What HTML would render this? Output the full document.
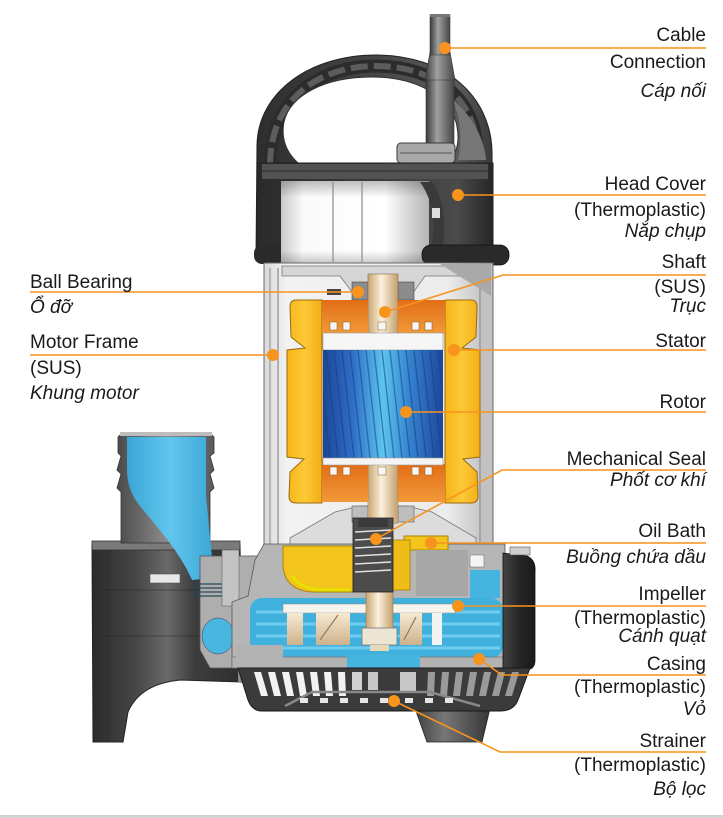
<!DOCTYPE html>
<html><head><meta charset="utf-8">
<style>
html,body{margin:0;padding:0;background:#fff;}
body{width:723px;height:818px;position:relative;overflow:hidden;}
svg{position:absolute;left:0;top:0;}
text{font-family:"Liberation Sans","Noto Sans CJK SC",sans-serif;font-size:19px;fill:#1a1a1a;}
.r{text-anchor:end;}
.i{font-style:italic;}
</style></head><body>
<svg width="723" height="818" viewBox="0 0 723 818" xmlns="http://www.w3.org/2000/svg">
<defs>
<linearGradient id="gCable" x1="0" x2="1" y1="0" y2="0"><stop offset="0" stop-color="#3a3a3a"/><stop offset="0.4" stop-color="#a0a0a0"/><stop offset="1" stop-color="#454545"/></linearGradient>
<linearGradient id="gHandle" x1="0" x2="1" y1="0" y2="0"><stop offset="0" stop-color="#2e2e2e"/><stop offset="0.5" stop-color="#454545"/><stop offset="0.85" stop-color="#5a5a5a"/><stop offset="1" stop-color="#3a3a3a"/></linearGradient>
<linearGradient id="gHead" x1="0" x2="1" y1="0" y2="0"><stop offset="0" stop-color="#2a2a2a"/><stop offset="0.6" stop-color="#3e3e3e"/><stop offset="0.85" stop-color="#4a4a4a"/><stop offset="1" stop-color="#262626"/></linearGradient>
<linearGradient id="gCap" x1="0" x2="1" y1="0" y2="0"><stop offset="0" stop-color="#c9c9c9"/><stop offset="0.15" stop-color="#fafafa"/><stop offset="0.7" stop-color="#ffffff"/><stop offset="1" stop-color="#b5b5b5"/></linearGradient>
<linearGradient id="gCapV" x1="0" x2="0" y1="0" y2="1"><stop offset="0" stop-color="#000" stop-opacity="0.25"/><stop offset="0.2" stop-color="#000" stop-opacity="0"/><stop offset="0.85" stop-color="#000" stop-opacity="0"/><stop offset="1" stop-color="#000" stop-opacity="0.2"/></linearGradient>
<linearGradient id="gFrame" x1="0" x2="1" y1="0" y2="0"><stop offset="0" stop-color="#d9d9d9"/><stop offset="0.1" stop-color="#f2f2f2"/><stop offset="0.8" stop-color="#ececec"/><stop offset="1" stop-color="#b9b9b9"/></linearGradient>
<linearGradient id="gYel" x1="0" x2="1" y1="0" y2="0"><stop offset="0" stop-color="#f6b51a"/><stop offset="0.5" stop-color="#fcc935"/><stop offset="1" stop-color="#f3ad17"/></linearGradient>
<linearGradient id="gOr" x1="0" x2="0" y1="0" y2="1"><stop offset="0" stop-color="#e36d17"/><stop offset="1" stop-color="#f19a3a"/></linearGradient>
<linearGradient id="gRotor" x1="0" x2="1" y1="0" y2="0"><stop offset="0" stop-color="#1b4699"/><stop offset="0.25" stop-color="#2f6fc4"/><stop offset="0.5" stop-color="#5cc4ee"/><stop offset="0.72" stop-color="#3683cf"/><stop offset="1" stop-color="#1c479c"/></linearGradient>
<linearGradient id="gShaft" x1="0" x2="1" y1="0" y2="0"><stop offset="0" stop-color="#c9a572"/><stop offset="0.45" stop-color="#fbf1dc"/><stop offset="1" stop-color="#c39f6c"/></linearGradient>
<linearGradient id="gDis" x1="0" x2="1" y1="0" y2="0"><stop offset="0" stop-color="#2b2b2b"/><stop offset="0.3" stop-color="#474747"/><stop offset="0.5" stop-color="#6a6a6a"/><stop offset="0.68" stop-color="#3d3d3d"/><stop offset="1" stop-color="#2e2e2e"/></linearGradient>
<linearGradient id="gPipe" x1="0" x2="1" y1="0" y2="0"><stop offset="0" stop-color="#4a4a4a"/><stop offset="0.5" stop-color="#8a8a8a"/><stop offset="1" stop-color="#5a5a5a"/></linearGradient>
<linearGradient id="gBlue" x1="0" x2="1" y1="0" y2="0"><stop offset="0" stop-color="#3aa6d6"/><stop offset="0.5" stop-color="#62c6ee"/><stop offset="1" stop-color="#3aa6d6"/></linearGradient>
<linearGradient id="gRdark" x1="0" x2="1" y1="0" y2="0"><stop offset="0" stop-color="#444"/><stop offset="0.5" stop-color="#262626"/><stop offset="1" stop-color="#1a1a1a"/></linearGradient>
<linearGradient id="gLeg" x1="0" x2="1" y1="0" y2="0"><stop offset="0" stop-color="#3a3a3a"/><stop offset="0.4" stop-color="#777"/><stop offset="1" stop-color="#333"/></linearGradient>
<linearGradient id="gBeige" x1="0" x2="0" y1="0" y2="1"><stop offset="0" stop-color="#f6ead2"/><stop offset="1" stop-color="#cdb28c"/></linearGradient>
<clipPath id="cRotor"><rect x="323" y="350" width="120" height="108"/></clipPath>
</defs>

<rect x="0" y="815" width="723" height="3" fill="#d2d2d2"/>

<!-- DISCHARGE -->
<path d="M92,545 L240,545 L242,682 L180,680 Q140,684 128,712 L123,742 L93,742 Z" fill="url(#gDis)" stroke="#222" stroke-width="1"/>
<rect x="92" y="541" width="148" height="9" fill="#7a7a7a" stroke="#333" stroke-width="0.8"/>
<line x1="100" y1="590" x2="238" y2="590" stroke="#222" stroke-width="0.8" opacity="0.6"/>
<line x1="100" y1="636" x2="238" y2="636" stroke="#222" stroke-width="0.8" opacity="0.6"/>
<line x1="108" y1="550" x2="108" y2="742" stroke="#222" stroke-width="0.8" opacity="0.5"/>
<rect x="150" y="574" width="30" height="9" fill="#e8e8e8" stroke="#555" stroke-width="0.6"/>
<path d="M118,437 L121,434 L211,434 L214,437 L214,453 L210,456 L214,470 L210,474 L214,488 L210,492 L210,543 L121,543 L121,492 L117,488 L121,474 L117,470 L121,456 L118,453 Z" fill="url(#gPipe)" stroke="#333" stroke-width="0.8"/>
<path d="M127,437 L206,437 L206,495 L214,578 L192,580 C178,548 152,522 137,502 C129,490 127,480 127,468 Z" fill="url(#gBlue)"/>
<rect x="120" y="432" width="92" height="4" fill="#bdbdbd"/>
<path d="M200,556 L262,556 L262,668 L210,668 L200,650 Z" fill="#aeaeae" stroke="#555" stroke-width="0.8"/>
<rect x="222" y="550" width="17" height="56" fill="#c3c3c3" stroke="#666" stroke-width="0.6"/>
<g stroke="#2a4a5a" stroke-width="1.2"><line x1="192" y1="584" x2="222" y2="584"/><line x1="192" y1="588" x2="222" y2="588"/><line x1="192" y1="592" x2="222" y2="592"/><line x1="192" y1="596" x2="222" y2="596"/></g>
<ellipse cx="218" cy="636" rx="16" ry="18" fill="#48b6df" stroke="#336" stroke-width="0.5"/>
<path d="M238,640 L246,640 L246,682 L238,682 Z" fill="#8a8a8a"/>

<!-- right leg -->
<path d="M412,700 L492,700 L482,742 L427,742 Z" fill="url(#gLeg)" stroke="#222" stroke-width="0.8"/>

<!-- handle -->
<path d="M256,258 L257,145 C258,92 310,55 376,55 C444,55 491,95 492,152 L493,258 Z" fill="url(#gHandle)" stroke="#222" stroke-width="1"/>
<path d="M270,165 C270,100 318,66 376,66 C436,66 476,100 477,150" fill="none" stroke="#2c2c2c" stroke-width="13"/>
<path d="M270,165 C270,100 318,66 376,66 C436,66 476,100 477,150" fill="none" stroke="#5c5c5c" stroke-width="6" stroke-dasharray="17 6"/>
<path d="M452,98 C470,115 484,135 486,160 L458,160 C462,140 461,118 452,98 Z" fill="#767676"/>
<path d="M298,163 C286,152 281,138 284,122 C290,95 325,77 372,77 C415,77 448,95 456,122 C460,138 458,152 450,160 L446,163 Z" fill="#fff" stroke="#333" stroke-width="1"/>
<rect x="426" y="78" width="28" height="72" fill="url(#gCable)" stroke="#333" stroke-width="0.6"/>
<path d="M430,52 L450,52 L455,80 L425,80 Z" fill="url(#gCable)" stroke="#333" stroke-width="0.6"/>
<rect x="430" y="15" width="20" height="40" fill="url(#gCable)" stroke="#444" stroke-width="0.6"/>
<rect x="430" y="14" width="20" height="3" fill="#777"/>
<rect x="397" y="143" width="58" height="20" rx="4" fill="#a8a8a8" stroke="#3a3a3a" stroke-width="1"/>
<line x1="400" y1="153" x2="452" y2="153" stroke="#555" stroke-width="1"/>

<!-- HEAD COVER -->
<rect x="257" y="163" width="236" height="96" fill="url(#gHead)" stroke="#222" stroke-width="1"/>
<rect x="262" y="164" width="226" height="15" fill="#525252"/>
<line x1="262" y1="171" x2="488" y2="171" stroke="#2a2a2a" stroke-width="1"/>
<rect x="254" y="245" width="30" height="19" rx="8" fill="#2a2a2a"/>
<rect x="281" y="181" width="148" height="82" fill="url(#gCap)"/>
<rect x="281" y="181" width="148" height="82" fill="url(#gCapV)"/>
<line x1="333" y1="182" x2="333" y2="262" stroke="#8a8a8a" stroke-width="1.2"/>
<line x1="362" y1="182" x2="362" y2="262" stroke="#8a8a8a" stroke-width="1.2"/>
<path d="M420,182 C433,200 438,225 428,262 L440,262 C448,225 444,200 432,182 Z" fill="#3a3a3a"/>
<rect x="432" y="208" width="8" height="10" fill="#ddd"/>
<rect x="422" y="245" width="87" height="20" rx="9" fill="#2a2a2a" stroke="#111" stroke-width="0.8"/>

<!-- MOTOR FRAME -->
<rect x="264" y="263" width="229" height="286" fill="url(#gFrame)" stroke="#6a6a6a" stroke-width="1"/>
<line x1="270" y1="268" x2="270" y2="548" stroke="#8a8a8a" stroke-width="1"/>
<line x1="278" y1="268" x2="278" y2="548" stroke="#8a8a8a" stroke-width="1.2"/>
<rect x="479" y="264" width="13" height="284" fill="#c2c2c2"/>
<line x1="480" y1="264" x2="480" y2="548" stroke="#888" stroke-width="1"/>
<path d="M282,266 L476,266 L476,276 L425,276 L408,300 L358,300 L340,276 L282,276 Z" fill="#d6d6d6" stroke="#777" stroke-width="0.8"/>
<path d="M440,264 L491,264 L491,296 Z" fill="#a9a9a9"/>
<rect x="327" y="289" width="14" height="6" fill="#444"/>
<rect x="352" y="282" width="16" height="18" fill="#8c8c8c" stroke="#444" stroke-width="0.6"/>
<rect x="398" y="282" width="16" height="18" fill="#8c8c8c" stroke="#444" stroke-width="0.6"/>
<rect x="368" y="274" width="30" height="252" fill="url(#gShaft)" stroke="#8a6d45" stroke-width="0.6"/>
<path d="M296,300 L322,300 L322,503 L296,503 Q289,503 289,496 L290,472 L304,459 L287,457 L287,350 L305,348 L291,337 L290,307 Q290,300 296,300 Z" fill="url(#gYel)" stroke="#9a6a10" stroke-width="1"/>
<path d="M471,300 L445,300 L445,503 L471,503 Q478,503 478,496 L477,472 L463,459 L480,457 L480,350 L462,348 L476,337 L477,307 Q477,300 471,300 Z" fill="url(#gYel)" stroke="#9a6a10" stroke-width="1"/>
<rect x="322" y="300" width="46" height="34" fill="url(#gOr)"/>
<rect x="398" y="300" width="47" height="34" fill="url(#gOr)"/>
<rect x="322" y="464" width="46" height="38" fill="url(#gOr)"/>
<rect x="398" y="464" width="47" height="38" fill="url(#gOr)"/>
<g fill="#f6f6f6" stroke="#8a5a20" stroke-width="0.5">
<rect x="330" y="322" width="7" height="8"/><rect x="343" y="322" width="7" height="8"/><rect x="378" y="322" width="8" height="8"/><rect x="412" y="322" width="7" height="8"/><rect x="425" y="322" width="7" height="8"/>
<rect x="330" y="467" width="7" height="8"/><rect x="343" y="467" width="7" height="8"/><rect x="378" y="467" width="8" height="8"/><rect x="412" y="467" width="7" height="8"/><rect x="425" y="467" width="7" height="8"/>
</g>
<rect x="323" y="333" width="120" height="17" fill="#f6f6f6" stroke="#999" stroke-width="0.6"/>
<rect x="323" y="350" width="120" height="108" fill="url(#gRotor)"/>
<g clip-path="url(#cRotor)" stroke="#173d86" stroke-width="1.3" opacity="0.55">
<line x1="310" y1="350" x2="322" y2="458"/><line x1="318" y1="350" x2="330" y2="458"/><line x1="326" y1="350" x2="338" y2="458"/><line x1="334" y1="350" x2="346" y2="458"/><line x1="342" y1="350" x2="354" y2="458"/><line x1="350" y1="350" x2="362" y2="458"/><line x1="358" y1="350" x2="370" y2="458"/><line x1="366" y1="350" x2="378" y2="458"/><line x1="374" y1="350" x2="386" y2="458"/><line x1="382" y1="350" x2="394" y2="458"/><line x1="390" y1="350" x2="402" y2="458"/><line x1="398" y1="350" x2="410" y2="458"/><line x1="406" y1="350" x2="418" y2="458"/><line x1="414" y1="350" x2="426" y2="458"/><line x1="422" y1="350" x2="434" y2="458"/><line x1="430" y1="350" x2="442" y2="458"/><line x1="438" y1="350" x2="450" y2="458"/>
</g>
<rect x="323" y="458" width="120" height="7" fill="#f4f4f4" stroke="#999" stroke-width="0.6"/>
<path d="M290,538 L335,512 L360,506 L406,506 L432,512 L476,538 L476,546 L290,546 Z" fill="#dcdcdc" stroke="#777" stroke-width="0.8"/>
<rect x="352" y="506" width="16" height="16" fill="#bdbdbd" stroke="#555" stroke-width="0.6"/>
<rect x="398" y="506" width="16" height="16" fill="#bdbdbd" stroke="#555" stroke-width="0.6"/>
<rect x="368" y="500" width="30" height="24" fill="url(#gShaft)"/>

<!-- CASING -->
<path d="M264,544 L505,544 L505,668 L232,668 L232,602 L248,596 L255,560 Z" fill="#b6b6b6" stroke="#555" stroke-width="0.8"/>
<rect x="250" y="598" width="253" height="60" rx="12" fill="#40b0dc"/>
<g stroke="#6fcbef" stroke-width="3"><line x1="256" y1="612" x2="500" y2="612"/><line x1="256" y1="624" x2="500" y2="624"/><line x1="256" y1="636" x2="500" y2="636"/><line x1="256" y1="648" x2="500" y2="648"/></g>
<rect x="283" y="604" width="172" height="9" fill="#f7f4ee" stroke="#888" stroke-width="0.5"/>
<rect x="287" y="613" width="16" height="32" fill="url(#gBeige)"/>
<path d="M316,613 L350,613 L350,645 L316,645 Z" fill="url(#gBeige)"/>
<path d="M320,640 L338,615" stroke="#8a7a60" stroke-width="1.2"/>
<path d="M400,613 L422,613 L422,645 L400,645 Z" fill="url(#gBeige)"/>
<path d="M404,640 L416,617" stroke="#8a7a60" stroke-width="1.2"/>
<rect x="432" y="613" width="10" height="32" fill="#f3f3f3"/>
<rect x="366" y="588" width="27" height="45" fill="url(#gShaft)" stroke="#8a6d45" stroke-width="0.5"/>
<rect x="362" y="628" width="35" height="17" fill="#ece5d4" stroke="#777" stroke-width="0.8"/>
<rect x="370" y="645" width="19" height="6" fill="#e5d9b8"/>
<rect x="232" y="657" width="273" height="11" fill="#b2b2b2" stroke="#666" stroke-width="0.6"/>
<rect x="236" y="645" width="47" height="13" fill="#b2b2b2"/>
<rect x="347" y="654" width="73" height="14" fill="#45b4de"/>
<path d="M283,546 L353,546 L353,592 L312,592 Q285,590 283,566 Z" fill="#f2c41c" stroke="#a88408" stroke-width="1"/>
<path d="M292,576 Q300,588 320,590 L350,590" fill="none" stroke="#e8e000" stroke-width="3"/>
<rect x="404" y="536" width="44" height="14" fill="#f2c41c" stroke="#a88408" stroke-width="1"/>
<rect x="392" y="540" width="18" height="50" fill="#f0bc18" stroke="#a88408" stroke-width="0.8"/>
<rect x="416" y="550" width="52" height="46" fill="#a7a7a7"/>
<rect x="470" y="555" width="14" height="12" fill="#f4f4f4" stroke="#777" stroke-width="0.6"/>
<path d="M470,570 L500,570 L500,598 L470,598 Z" fill="#45b4de"/>
<rect x="353" y="518" width="40" height="74" fill="#4c4c4c" stroke="#222" stroke-width="0.8"/>
<g stroke="#e0e0e0" stroke-width="1.6"><line x1="355" y1="532" x2="391" y2="530"/><line x1="355" y1="540" x2="391" y2="538"/><line x1="355" y1="548" x2="391" y2="546"/><line x1="355" y1="556" x2="391" y2="554"/><line x1="355" y1="564" x2="391" y2="562"/><line x1="355" y1="572" x2="391" y2="570"/></g>
<rect x="358" y="518" width="30" height="9" fill="#3a3a3a"/>
<path d="M503,553 L527,556 Q536,560 535,572 L535,660 Q535,670 525,670 L503,670 Z" fill="url(#gRdark)" stroke="#111" stroke-width="0.8"/>
<rect x="510" y="547" width="20" height="8" fill="#cfcfcf" stroke="#555" stroke-width="0.6"/>

<!-- STRAINER -->
<path d="M238,668 L530,668 L518,700 Q514,711 500,711 L262,711 Q252,711 248,700 Z" fill="#3b3b3b" stroke="#1a1a1a" stroke-width="1"/>
<g fill="#f2f2f2">
<path d="M254,672 L261,672 L268,696 L261,696 Z"/><path d="M268,672 L275,672 L281,696 L274,696 Z"/><path d="M282,672 L289,672 L294,696 L287,696 Z"/><path d="M296,672 L303,672 L307,696 L300,696 Z"/><path d="M310,672 L317,672 L320,696 L313,696 Z"/><path d="M324,672 L331,672 L333,696 L326,696 Z"/><path d="M338,672 L345,672 L346,696 L339,696 Z"/>
<path d="M352,672 L362,672 L362,690 L352,690 Z" fill="#d0d0d0"/><path d="M368,672 L378,672 L378,690 L368,690 Z" fill="#c8c8c8"/><path d="M400,672 L416,672 L416,692 L400,692 Z" fill="#c8c8c8"/>
</g>
<g fill="#9a9a9a">
<path d="M428,672 L435,672 L434,696 L427,696 Z"/><path d="M442,672 L449,672 L447,696 L440,696 Z"/><path d="M456,672 L463,672 L460,696 L453,696 Z"/><path d="M470,672 L477,672 L473,696 L466,696 Z"/><path d="M484,672 L491,672 L486,696 L479,696 Z"/><path d="M498,672 L505,672 L499,696 L492,696 Z"/><path d="M512,672 L519,672 L512,696 L505,696 Z"/>
</g>
<path d="M285,706 L312,692 L430,692 L480,706" fill="none" stroke="#888" stroke-width="2.5"/>
<g fill="#e6e6e6"><rect x="300" y="698" width="8" height="5"/><rect x="320" y="698" width="8" height="5"/><rect x="340" y="698" width="8" height="5"/><rect x="360" y="698" width="8" height="5"/><rect x="380" y="698" width="8" height="5"/><rect x="405" y="698" width="8" height="5"/><rect x="425" y="698" width="8" height="5"/><rect x="445" y="698" width="8" height="5"/></g>

<!-- LEADER LINES -->
<g fill="none" stroke="#f7941d" stroke-width="1.6">
<path d="M445,48 H706"/>
<path d="M458,195 H706"/>
<path d="M30,292 H358"/>
<path d="M385,312 L503,275 H706"/>
<path d="M30,355 H273"/>
<path d="M454,350 H706"/>
<path d="M406,412 H706"/>
<path d="M376,539 L502,470 H706"/>
<path d="M431,543 H706"/>
<path d="M458,606 H706"/>
<path d="M479,659 L502,675 H706"/>
<path d="M394,701 L500,752 H706"/>
</g>
<g fill="#f7941d">
<circle cx="445" cy="48" r="6"/><circle cx="458" cy="195" r="6"/><circle cx="358" cy="292" r="6"/><circle cx="385" cy="312" r="6"/><circle cx="273" cy="355" r="6"/><circle cx="454" cy="350" r="6"/><circle cx="406" cy="412" r="6"/><circle cx="376" cy="539" r="6"/><circle cx="431" cy="543" r="6"/><circle cx="458" cy="606" r="6"/><circle cx="479" cy="659" r="6"/><circle cx="394" cy="701" r="6"/>
</g>

<!-- LABELS -->
<text class="r" x="706" y="41">Cable</text>
<text class="r" x="706" y="68">Connection</text>
<text class="r i" x="706" y="97">Cáp nối</text>
<text class="r" x="706" y="190">Head Cover</text>
<text class="r" x="706" y="216">(Thermoplastic)</text>
<text class="r i" x="706" y="237">Nắp chụp</text>
<text class="r" x="706" y="268">Shaft</text>
<text class="r" x="706" y="293">(SUS)</text>
<text class="r i" x="706" y="312">Trục</text>
<text class="r" x="706" y="347">Stator</text>
<text class="r" x="706" y="408">Rotor</text>
<text class="r" x="706" y="465">Mechanical Seal</text>
<text class="r i" x="706" y="486">Phốt cơ khí</text>
<text class="r" x="706" y="537">Oil Bath</text>
<text class="r i" x="706" y="563">Buồng chứa dầu</text>
<text class="r" x="706" y="600">Impeller</text>
<text class="r" x="706" y="624">(Thermoplastic)</text>
<text class="r i" x="706" y="642">Cánh quạt</text>
<text class="r" x="706" y="670">Casing</text>
<text class="r" x="706" y="693">(Thermoplastic)</text>
<text class="r i" x="706" y="715">Vỏ</text>
<text class="r" x="706" y="747">Strainer</text>
<text class="r" x="706" y="771">(Thermoplastic)</text>
<text class="r i" x="706" y="795">Bộ lọc</text>

<text x="30" y="288">Ball Bearing</text>
<text class="i" x="30" y="313">Ổ đỡ</text>
<text x="30" y="348">Motor Frame</text>
<text x="30" y="374">(SUS)</text>
<text class="i" x="30" y="399">Khung motor</text>
</svg>
</body></html>
